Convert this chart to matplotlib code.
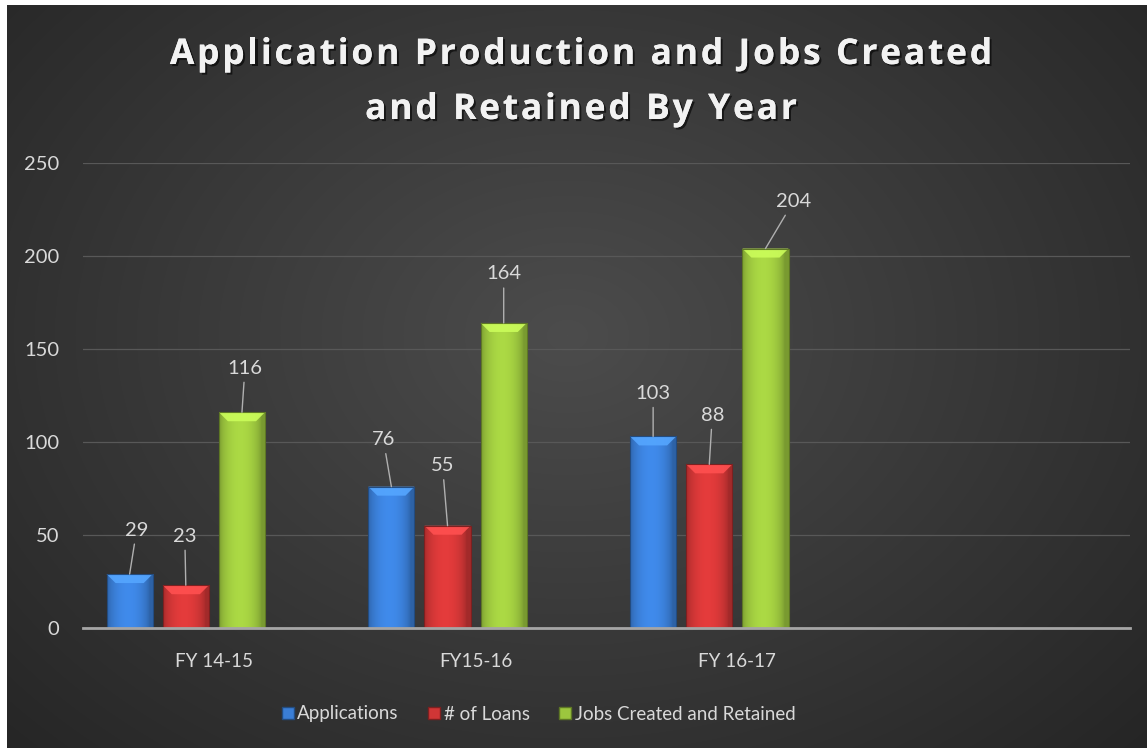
import matplotlib.pyplot as plt
import numpy as np
from matplotlib.patches import Rectangle, Polygon
from matplotlib.lines import Line2D
import matplotlib.patheffects as pe
from matplotlib.colors import to_rgb

categories = ['FY 14-15', 'FY15-16', 'FY 16-17', '']
series_names = ['Applications', '# of Loans', 'Jobs Created and Retained']
applications = [29, 76, 103]
loans = [23, 55, 88]
jobs = [116, 164, 204]

title_lines = ['Application Production and Jobs Created', 'and Retained By Year']

colors = ['#3a7ed6', '#d03636', '#9cc63e']
txt = '#d9d9d9'

# label offsets in pixels (dx, dy) from bar top
label_off = [
    [(7, 44), (-8, 47), (0, 43)],
    [(-1, 49), (-5, 60), (3, 49)],
    [(3, 44), (0, 49), (28, 47)],
]

W, H = 1147, 748
fig = plt.figure(figsize=(W / 100, H / 100), dpi=100, facecolor='white')

# --- background: radial gradient ---
bg = fig.add_axes([7 / W, 0, 1 - 7 / W, 1 - 5 / H], zorder=-10)
yy, xx = np.mgrid[0:743, 0:1140]
d = np.sqrt(((xx - 560) / 820) ** 2 + ((yy - 330) / 620) ** 2)
d = np.clip(d, 0, 1)
c0 = np.array(to_rgb('#4c4c4c'))
c1 = np.array(to_rgb('#242424'))
img = c0[None, None, :] + (c1 - c0)[None, None, :] * d[..., None]
bg.imshow(img, aspect='auto', interpolation='bilinear')
bg.axis('off')

ax = fig.add_axes([83 / W, 1 - 628 / H, (1130 - 83) / W, (628 - 163) / H])
ax.set_facecolor('none')

n_cat = len(categories)
slot = 56 / 261
bw = 46 / 261
px_x = 261          # px per category
px_y = 465 / 250    # px per unit


def draw_bar(xc, h, color):
    base = np.array(to_rgb(color))
    x0 = xc - bw / 2
    rect = Rectangle((x0, 0), bw, h, facecolor=color, edgecolor='none', zorder=3)
    ax.add_patch(rect)
    t = np.linspace(0, 1, 60)
    shade = 0.78 + 0.32 * np.sin(np.pi * np.clip(t * 1.1, 0, 1)) ** 0.6
    grad = np.clip(base[None, :] * shade[:, None], 0, 1)[None, :, :]
    im = ax.imshow(grad, extent=[x0, x0 + bw, 0, h], aspect='auto',
                   zorder=3, interpolation='bilinear')
    im.set_clip_path(rect)
    dx = 9 / px_x
    dy = min(9 / px_y, h * 0.3)
    light = np.clip(base * 1.2 + 0.06, 0, 1)
    ax.add_patch(Polygon([(x0, h), (x0 + bw, h), (x0 + bw - dx, h - dy),
                          (x0 + dx, h - dy)], closed=True, facecolor=light,
                         edgecolor='none', alpha=0.9, zorder=4))
    ax.add_patch(Rectangle((x0, 0), bw, h, facecolor='none',
                           edgecolor=base * 0.6, linewidth=0.8, zorder=5))


all_series = [applications, loans, jobs]
for s, vals in enumerate(all_series):
    for i, v in enumerate(vals):
        xc = i + (s - 1.5) * slot
        draw_bar(xc, v, colors[s])
        ox, oy = label_off[s][i]
        ax.annotate(str(v), xy=(xc, v), xytext=(ox * 0.72, oy * 0.72),
                    textcoords='offset points', ha='center', va='center',
                    fontsize=14.5, color=txt, family='Lato',
                    arrowprops=dict(arrowstyle='-', color='#b0b0b0', lw=1.0,
                                    shrinkA=2, shrinkB=0), zorder=6)

ax.set_xlim(-0.5, n_cat - 0.5)
ax.set_ylim(0, 250)
ax.set_yticks(np.arange(0, 251, 50))
ax.set_xticks(range(n_cat))
ax.set_xticklabels(categories)
ax.grid(axis='y', color='#585858', linewidth=0.9, zorder=0)
ax.set_axisbelow(True)
ax.axhline(0, color='#a6a6a6', linewidth=2.0, zorder=7, clip_on=False)
for sp in ax.spines.values():
    sp.set_visible(False)
ax.tick_params(axis='both', length=0, colors=txt, labelsize=14.5)
ax.tick_params(axis='y', pad=17)
ax.tick_params(axis='x', pad=18, labelsize=13.5)
for lab in ax.get_xticklabels() + ax.get_yticklabels():
    lab.set_family('Lato')

# title with letter spacing, drawn char by char
renderer = fig.canvas.get_renderer()
shadow = [pe.withSimplePatchShadow(offset=(1.5, -1.5), shadow_rgbFace='black',
                                   alpha=0.6), pe.Normal()]
tprops = dict(fontsize=25.5, fontweight='bold', family='Open Sans')


def spaced_line(s, yc, spacing):
    widths = []
    for ch in s:
        probe = fig.text(0, 0, ch if ch != ' ' else 'n', **tprops)
        w = probe.get_window_extent(renderer).width
        probe.remove()
        widths.append(w * 0.42 if ch == ' ' else w)
    total = sum(widths) + spacing * (len(s) - 1)
    x = 581 - total / 2
    for ch, w in zip(s, widths):
        if ch != ' ':
            fig.text(x / W, 1 - yc / H, ch, ha='left', va='center',
                     color='#f2f2f2', path_effects=shadow, **tprops)
        x += w + spacing


spaced_line(title_lines[0], 55, 2.8)
spaced_line(title_lines[1], 110, 2.8)

# legend
handles = [Line2D([], [], marker='s', linestyle='none', markersize=8,
                  markerfacecolor=c, markeredgecolor=np.array(to_rgb(c)) * 0.6)
           for c in colors]
leg = fig.legend(handles, series_names, loc='center', ncol=3,
                 bbox_to_anchor=(538 / W, 1 - 714 / H), frameon=False,
                 handletextpad=0.1, columnspacing=1.5, handlelength=0.8,
                 prop={'family': 'Lato', 'size': 13.5})
for t in leg.get_texts():
    t.set_color(txt)

fig.savefig('out.png', dpi=100, facecolor='white')
